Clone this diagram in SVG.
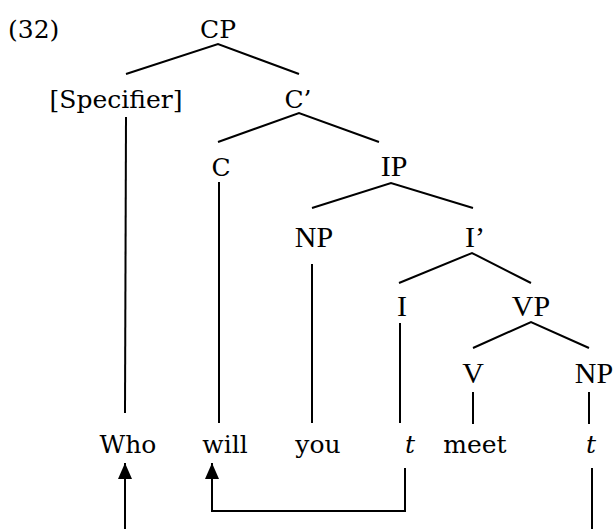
<svg xmlns="http://www.w3.org/2000/svg" width="616" height="529" viewBox="0 0 616 529">
  <style>
    .cs { font-family: "DejaVu Serif", "Liberation Serif", serif; font-size: 25px; fill: #000; }
    .tm { font-family: "Liberation Serif", "Times New Roman", serif; font-size: 30px; fill: #000; }
    .it { font-family: "DejaVu Serif", "Liberation Serif", serif; font-size: 25px; font-style: italic; fill: #000; }
    .ln { stroke: #000; stroke-width: 2; fill: none; }
  </style>
  <defs>
    <marker id="arrow" viewBox="0 0 16 14" refX="16" refY="7" markerWidth="16" markerHeight="14" markerUnits="userSpaceOnUse" orient="auto">
      <path d="M0,0 L16,7 L0,14 Z" fill="#000"/>
    </marker>
  </defs>
  <rect width="616" height="529" fill="#fff"/>

  <text class="cs" x="8" y="38">(32)</text>

  <!-- tree nodes -->
  <g id="CP"><text class="cs" x="218" y="38" text-anchor="middle">CP</text></g>
  <g id="Spec"><text class="cs" x="116" y="108" text-anchor="middle">[Specifier]</text></g>
  <g id="Cbar"><text class="cs" x="298" y="108" text-anchor="middle">C’</text></g>
  <g id="C"><text class="cs" x="221" y="176" text-anchor="middle">C</text></g>
  <g id="IP"><text class="tm" x="394" y="176" text-anchor="middle">IP</text></g>
  <g id="NP1"><text class="tm" x="314" y="247" text-anchor="middle">NP</text></g>
  <g id="Ibar"><text class="tm" x="475" y="247" text-anchor="middle">I’</text></g>
  <g id="I"><text class="tm" x="402" y="316" text-anchor="middle">I</text></g>
  <g id="VP"><text class="tm" x="531" y="316" text-anchor="middle">VP</text></g>
  <g id="V"><text class="tm" x="473" y="383" text-anchor="middle">V</text></g>
  <g id="NP2"><text class="tm" x="594" y="383" text-anchor="middle">NP</text></g>

  <!-- words -->
  <g id="w-who"><text class="cs" x="128" y="453" text-anchor="middle">Who</text></g>
  <g id="w-will"><text class="cs" x="225" y="453" text-anchor="middle">will</text></g>
  <g id="w-you"><text class="cs" x="318" y="453" text-anchor="middle">you</text></g>
  <g id="w-t1"><text class="it" x="410" y="453" text-anchor="middle">t</text></g>
  <g id="w-meet"><text class="cs" x="475" y="453" text-anchor="middle">meet</text></g>
  <g id="w-t2"><text class="it" x="591" y="453" text-anchor="middle">t</text></g>

  <!-- branches and movement arrows -->
  <g id="connectors" class="ln">
    <path class="ln" d="M126,74 L218,44 L299,74"/>
    <path class="ln" d="M218,142 L299,113 L379,142"/>
    <path class="ln" d="M312,208 L391,183 L473,208"/>
    <path class="ln" d="M399,283 L472,253 L531,283"/>
    <path class="ln" d="M473,348 L531,322 L589,348"/>

    <line class="ln" x1="126" y1="117" x2="125" y2="413"/>
    <line class="ln" x1="219" y1="182" x2="219" y2="423"/>
    <line class="ln" x1="312" y1="264" x2="312" y2="423"/>
    <line class="ln" x1="400" y1="323" x2="400" y2="423"/>
    <line class="ln" x1="473" y1="392" x2="473" y2="424"/>
    <line class="ln" x1="589" y1="392" x2="589" y2="424"/>

    <line class="ln" x1="125" y1="529" x2="125" y2="463" marker-end="url(#arrow)"/>
    <path class="ln" d="M405,468 L405,511 L212,511 L212,463" marker-end="url(#arrow)"/>
    <line class="ln" x1="592" y1="468" x2="592" y2="529"/>
  </g>
</svg>
